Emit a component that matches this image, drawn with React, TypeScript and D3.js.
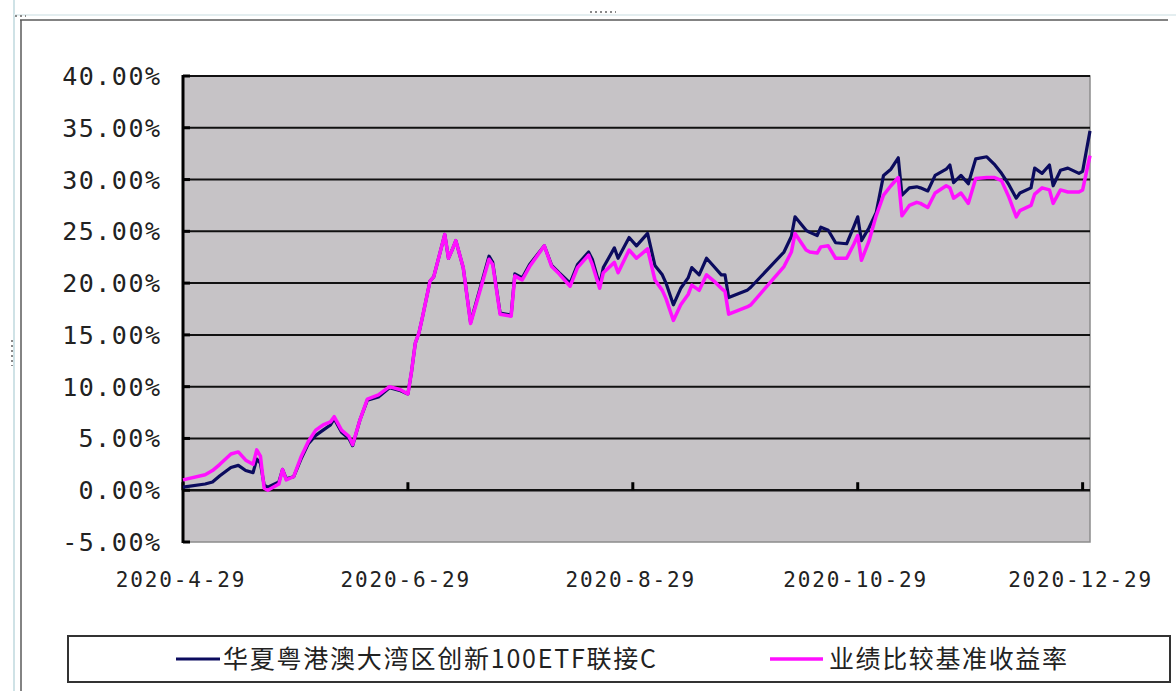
import * as d3 from 'd3';
import React from 'react';

// trading-day samples (cumulative return, %)
const dates = [
    '2020-04-29', '2020-05-05', '2020-05-07', '2020-05-09', '2020-05-12', '2020-05-14', '2020-05-16', '2020-05-18',
    '2020-05-19', '2020-05-20', '2020-05-21', '2020-05-22', '2020-05-25', '2020-05-26', '2020-05-27', '2020-05-29',
    '2020-05-31', '2020-06-02', '2020-06-04', '2020-06-06', '2020-06-08', '2020-06-09', '2020-06-11', '2020-06-13',
    '2020-06-14', '2020-06-16', '2020-06-18', '2020-06-21', '2020-06-24', '2020-06-27', '2020-06-29', '2020-06-30',
    '2020-07-01', '2020-07-02', '2020-07-03', '2020-07-05', '2020-07-06', '2020-07-09', '2020-07-10', '2020-07-11',
    '2020-07-12', '2020-07-14', '2020-07-16', '2020-07-21', '2020-07-22', '2020-07-24', '2020-07-27', '2020-07-28',
    '2020-07-30', '2020-08-01', '2020-08-05', '2020-08-07', '2020-08-09', '2020-08-12', '2020-08-14', '2020-08-17',
    '2020-08-18', '2020-08-20', '2020-08-21', '2020-08-24', '2020-08-25', '2020-08-28', '2020-08-30', '2020-09-02',
    '2020-09-04', '2020-09-06', '2020-09-07', '2020-09-09', '2020-09-11', '2020-09-13', '2020-09-14', '2020-09-16',
    '2020-09-18', '2020-09-20', '2020-09-22', '2020-09-23', '2020-09-24', '2020-09-29', '2020-09-30', '2020-10-09',
    '2020-10-11', '2020-10-12', '2020-10-15', '2020-10-16', '2020-10-18', '2020-10-19', '2020-10-21', '2020-10-23',
    '2020-10-26', '2020-10-28', '2020-10-29', '2020-10-30', '2020-11-01', '2020-11-03', '2020-11-05', '2020-11-07',
    '2020-11-09', '2020-11-10', '2020-11-12', '2020-11-14', '2020-11-15', '2020-11-17', '2020-11-19', '2020-11-22',
    '2020-11-23', '2020-11-24', '2020-11-26', '2020-11-28', '2020-11-30', '2020-12-03', '2020-12-05', '2020-12-07',
    '2020-12-09', '2020-12-11', '2020-12-12', '2020-12-15', '2020-12-16', '2020-12-18', '2020-12-20', '2020-12-21',
    '2020-12-23', '2020-12-25', '2020-12-28', '2020-12-29', '2020-12-31'
];

const fundRet = [
    0.3, 0.6, 0.8, 1.4, 2.2, 2.4, 1.9, 1.7,
    3.0, 2.6, 0.5, 0.3, 0.8, 2.0, 1.1, 1.3,
    3.0, 4.5, 5.3, 5.8, 6.3, 6.9, 5.6, 5.0,
    4.3, 6.8, 8.7, 9.0, 9.9, 9.6, 9.3, 11.5,
    14.2, 15.2, 16.8, 20.2, 20.6, 24.7, 22.4, 23.2,
    24.1, 21.5, 16.2, 22.6, 22.0, 17.1, 16.9, 20.9,
    20.5, 21.8, 23.6, 21.7, 21.0, 20.0, 21.8, 23.0,
    22.3, 19.8, 21.5, 23.4, 22.4, 24.4, 23.6, 24.8,
    21.7, 20.8, 20.0, 17.9, 19.5, 20.5, 21.5, 20.8,
    22.4, 21.6, 20.8, 20.8, 18.6, 19.3, 19.6, 23.0,
    24.5, 26.4, 25.1, 24.9, 24.6, 25.4, 25.1, 23.9,
    23.8, 25.5, 26.4, 24.1, 25.3, 26.8, 30.4, 31.0,
    32.1, 28.5, 29.2, 29.3, 29.2, 28.9, 30.4, 31.0,
    31.4, 29.7, 30.4, 29.6, 32.0, 32.2, 31.5, 30.6,
    29.5, 28.2, 28.7, 29.2, 31.1, 30.6, 31.4, 29.4,
    30.9, 31.1, 30.6, 30.8, 34.7
];

const benchRet = [
    1.0, 1.5, 1.9, 2.5, 3.5, 3.7, 2.9, 2.5,
    3.9, 3.3, 0.2, 0.0, 0.6, 2.0, 1.0, 1.3,
    3.2, 4.7, 5.8, 6.3, 6.6, 7.1, 5.8, 5.2,
    4.4, 6.8, 8.8, 9.2, 10.0, 9.7, 9.3, 11.5,
    14.2, 15.2, 16.8, 20.2, 20.6, 24.7, 22.4, 23.2,
    24.1, 21.5, 16.1, 22.3, 21.8, 17.0, 16.8, 20.7,
    20.3, 21.6, 23.6, 21.6, 20.9, 19.7, 21.5, 22.7,
    21.8, 19.5, 21.0, 22.0, 21.0, 23.2, 22.4, 23.3,
    20.3, 19.3, 18.5, 16.4, 17.9, 18.9, 19.8, 19.3,
    20.8, 20.2, 19.5, 19.2, 17.0, 17.7, 17.9, 21.6,
    23.0, 24.8, 23.2, 23.0, 22.9, 23.5, 23.6, 22.4,
    22.4, 23.8, 24.6, 22.2, 24.0, 26.5, 28.5, 29.4,
    30.2, 26.5, 27.5, 27.8, 27.7, 27.3, 28.7, 29.4,
    29.2, 28.2, 28.7, 27.7, 30.1, 30.2, 30.2, 29.9,
    28.3, 26.4, 27.0, 27.5, 28.6, 29.2, 29.0, 27.7,
    29.0, 28.8, 28.8, 29.0, 32.3
];

const yTicks = [-5, 0, 5, 10, 15, 20, 25, 30, 35, 40];
const xTickDates = ['2020-04-29', '2020-06-29', '2020-08-29', '2020-10-29', '2020-12-29'];
const xTickLabels = ['2020-4-29', '2020-6-29', '2020-8-29', '2020-10-29', '2020-12-29'];
const seriesNames = ['华夏粤港澳大湾区创新100ETF联接C', '业绩比较基准收益率'];
const seriesColors = ['#0b0b5e', '#ff10ff'];

const W = 1176, H = 691;
const plot = { left: 183, right: 1090, top: 76, bottom: 542 };

const parse = d3.timeParse('%Y-%m-%d');

const App = () => {
    const x = d3.scaleTime()
        .domain([parse('2020-04-29') as Date, parse('2020-12-31') as Date])
        .range([plot.left, plot.right]);
    const y = d3.scaleLinear().domain([-5, 40]).range([plot.bottom, plot.top]);

    const pts = dates.map((d, i) => ({ date: parse(d) as Date, fund: fundRet[i], bench: benchRet[i] }));

    const lineFund = d3.line<any>().x(d => x(d.date)).y(d => y(d.fund));
    const lineBench = d3.line<any>().x(d => x(d.date)).y(d => y(d.bench));

    const axisFont = '"DejaVu Sans Mono", monospace';
    const cjkFont = '"Noto Sans CJK SC", sans-serif';

    return <svg width={W} height={H} style={{ position: 'absolute', left: 0, top: 0, background: '#fff' }}>
        {/* window / chart-area frame */}
        <line x1={14} y1={0} x2={14} y2={H} stroke="#cfe2e6" strokeWidth={2} />
        <line x1={14} y1={15} x2={W} y2={15} stroke="#e4eef0" strokeWidth={2} />
        <line x1={20} y1={20} x2={W - 8} y2={20} stroke="#5a5a5a" strokeWidth={1.5} />
        <line x1={21} y1={20} x2={21} y2={H} stroke="#5a5a5a" strokeWidth={1.5} />
        <line x1={590} y1={12} x2={616} y2={12} stroke="#8a8a8a" strokeWidth={2} strokeDasharray="2,3" />
        <line x1={12} y1={340} x2={12} y2={366} stroke="#8a8a8a" strokeWidth={2} strokeDasharray="2,3" />
        <line x1={15} y1={16} x2={26} y2={16} stroke="#8a8a8a" strokeWidth={2} strokeDasharray="2,3" />

        {/* plot area */}
        <rect x={plot.left} y={plot.top} width={plot.right - plot.left} height={plot.bottom - plot.top}
            fill="#c6c3c6" stroke="#8c8c8c" strokeWidth={1.5} />
        {yTicks.filter(t => t > -5).map(t =>
            <line key={'g' + t} x1={plot.left} x2={plot.right} y1={y(t)} y2={y(t)}
                stroke="#111" strokeWidth={t === 0 ? 2.5 : 2} />
        )}
        {/* y axis */}
        <line x1={plot.left} x2={plot.left} y1={plot.top - 1} y2={plot.bottom + 1} stroke="#000" strokeWidth={3} />
        {yTicks.map(t =>
            <line key={'yt' + t} x1={plot.left} x2={plot.left + 7} y1={y(t)} y2={y(t)} stroke="#000" strokeWidth={3} />
        )}
        {yTicks.map(t => {
            const label = t.toFixed(2) + '%';
            return <text key={'yl' + t} x={160} y={y(t)} dy="0.36em" textAnchor="end"
                fontFamily={axisFont} fontSize={25} fill="#222"
                textLength={label.length * 16.3} lengthAdjust="spacing">{label}</text>;
        })}
        {/* x axis ticks on the 0% line */}
        {xTickDates.map(d =>
            <line key={'xt' + d} x1={x(parse(d) as Date)} x2={x(parse(d) as Date)} y1={y(0) - 8} y2={y(0)}
                stroke="#000" strokeWidth={3} />
        )}
        {xTickDates.map((d, i) =>
            <text key={'xl' + d} x={x(parse(d) as Date) - 3} y={587} textAnchor="middle"
                fontFamily={axisFont} fontSize={21} fill="#222"
                textLength={xTickLabels[i].length * 14.3} lengthAdjust="spacing">{xTickLabels[i]}</text>
        )}

        {/* series */}
        <path d={lineFund(pts) as string} fill="none" stroke={seriesColors[0]} strokeWidth={3.2} strokeLinejoin="round" />
        <path d={lineBench(pts) as string} fill="none" stroke={seriesColors[1]} strokeWidth={3.5} strokeLinejoin="round" />

        {/* legend */}
        <rect x={68} y={636} width={1102} height={46} fill="#fff" stroke="#333" strokeWidth={2} />
        <line x1={176} x2={220} y1={659} y2={659} stroke={seriesColors[0]} strokeWidth={3} />
        <text x={223} y={659} dy="0.35em" fontFamily={cjkFont} fontSize={25} fill="#222"
            textLength={433} lengthAdjust="spacing">{seriesNames[0]}</text>
        <line x1={770} x2={823} y1={659} y2={659} stroke={seriesColors[1]} strokeWidth={3.5} />
        <text x={829} y={659} dy="0.35em" fontFamily={cjkFont} fontSize={25} fill="#222"
            textLength={238} lengthAdjust="spacing">{seriesNames[1]}</text>
    </svg>;
}
export default App;
